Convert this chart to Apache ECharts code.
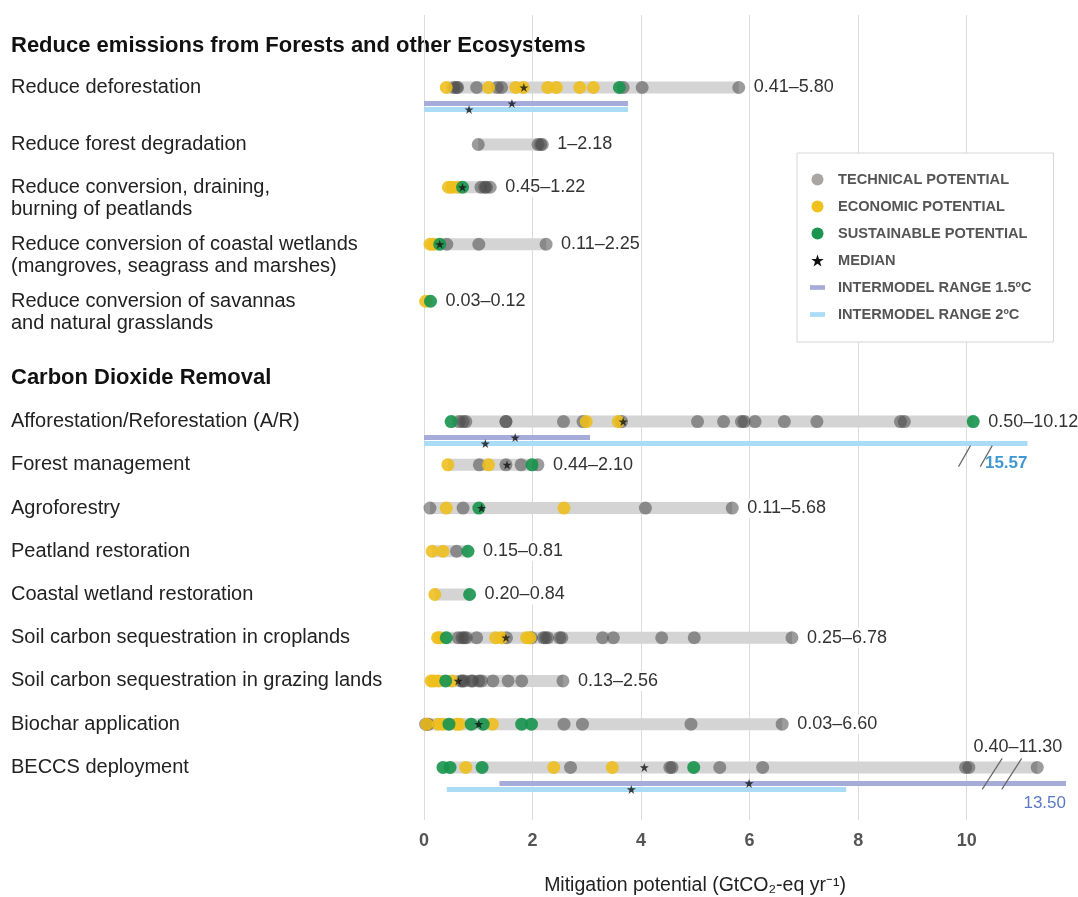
<!DOCTYPE html>
<html><head><meta charset="utf-8">
<script src="https://cdn.jsdelivr.net/npm/echarts@6/dist/echarts.min.js"></script>
<style>html,body{margin:0;padding:0;background:#fff}#chart{width:1078px;height:897px}</style>
</head><body><div id="chart"></div>
<script>
const FONT = "'Liberation Sans', Arial, Helvetica, sans-serif";

// ---------- DATA: Reduce emissions from Forests and other Ecosystems ----------
const topRows = [
  'Reduce deforestation',
  'Reduce forest degradation',
  'Reduce conversion, draining,\nburning of peatlands',
  'Reduce conversion of coastal wetlands\n(mangroves, seagrass and marshes)',
  'Reduce conversion of savannas\nand natural grasslands'
];
const topMin = [0.41, 1, 0.45, 0.11, 0.03];
const topMax = [5.80, 2.18, 1.22, 2.25, 0.12];
const topRangeText = ['0.41–5.80', '1–2.18', '0.45–1.22', '0.11–2.25', '0.03–0.12'];
const topTechnical = [
  [0.55, 0.60, 0.62, 0.97, 1.35, 1.43, 3.67, 4.02, 5.80],
  [1.00, 2.10, 2.15, 2.18],
  [1.05, 1.12, 1.15, 1.22],
  [0.42, 1.01, 2.25],
  []
];
const topEconomic = [
  [0.41, 1.19, 1.69, 1.83, 2.28, 2.44, 2.87, 3.12],
  [],
  [0.45, 0.52, 0.62],
  [0.11, 0.17],
  [0.03]
];
const topSustainable = [[3.60], [], [0.71], [0.29], [0.12]];
const topMedian = [1.84, null, 0.71, 0.29, null];
const topRange15 = [[0, 3.76, 1.62], null, null, null, null]; // [low, high, median]
const topRange20 = [[0, 3.76, 0.83], null, null, null, null];

// ---------- DATA: Carbon Dioxide Removal ----------
const cdrRows = [
  'Afforestation/Reforestation (A/R)',
  'Forest management',
  'Agroforestry',
  'Peatland restoration',
  'Coastal wetland restoration',
  'Soil carbon sequestration in croplands',
  'Soil carbon sequestration in grazing lands',
  'Biochar application',
  'BECCS deployment'
];
const cdrMin = [0.50, 0.44, 0.11, 0.15, 0.20, 0.25, 0.13, 0.03, 0.40];
const cdrMax = [10.12, 2.10, 5.68, 0.81, 0.84, 6.78, 2.56, 6.60, 11.30];
const cdrRangeText = ['0.50–10.12', '0.44–2.10', '0.11–5.68', '0.15–0.81', '0.20–0.84', '0.25–6.78', '0.13–2.56', '0.03–6.60', '0.40–11.30'];
const cdrTechnical = [
  [0.65, 0.72, 0.77, 1.51, 1.51, 2.57, 2.93, 3.64, 5.04, 5.52, 5.85, 5.90, 6.10, 6.64, 7.24, 8.78, 8.85],
  [1.02, 1.51, 1.79, 2.10],
  [0.11, 0.72, 4.08, 5.68],
  [0.60],
  [],
  [0.63, 0.70, 0.74, 0.78, 0.97, 1.52, 1.98, 2.20, 2.24, 2.28, 2.50, 2.54, 3.29, 3.49, 4.38, 4.98, 6.78],
  [0.68, 0.71, 0.74, 0.87, 0.90, 1.01, 1.06, 1.27, 1.55, 1.80, 2.56],
  [0.03, 0.06, 0.08, 2.58, 2.92, 4.92, 6.60],
  [2.70, 4.53, 4.57, 5.45, 6.24, 9.98, 10.04, 11.30]
];
const cdrEconomic = [
  [2.99, 3.58],
  [0.44, 1.19],
  [0.41, 2.58],
  [0.15, 0.35],
  [0.20],
  [0.25, 0.29, 1.32, 1.43, 1.89, 1.95],
  [0.13, 0.18, 0.26, 0.52],
  [0.05, 0.26, 0.35, 0.60, 0.66, 1.26],
  [0.77, 2.39, 3.47]
];
const cdrSustainable = [
  [0.50, 10.12],
  [1.99],
  [1.01],
  [0.81],
  [0.84],
  [0.41],
  [0.40],
  [0.46, 0.87, 1.09, 1.80, 1.98],
  [0.35, 0.48, 1.07, 4.97]
];
const cdrMedian = [3.67, 1.53, 1.06, null, null, 1.51, 0.63, 1.01, 4.06];
const cdrRange15 = [[0, 3.06, 1.68], null, null, null, null, null, null, null, [1.39, 13.50, 5.99]];
const cdrRange20 = [[0, 15.57, 1.13], null, null, null, null, null, null, null, [0.42, 7.78, 3.82]];

const axisTicks = [0, 2, 4, 6, 8, 10];

// ---------- LAYOUT ----------
const XMAX = 11.83;
const topRowSlot = [0, 4, 7, 11, 15];           // row spacing slots in the first section
const breakShownTo = { 'Afforestation/Reforestation (A/R)': 11.12, 'BECCS deployment': XMAX };
const labelAbove = ['BECCS deployment'];
const breakMarks = [
  { row: 'Afforestation/Reforestation (A/R)', at: [9.96, 10.36], dyTop: 24, dyBottom: 45, slant: 6 },
  { row: 'BECCS deployment', at: [10.47, 10.83], dyTop: -9, dyBottom: 22, slant: 10 }
];
const DY15 = 16, DY20 = 22;
const LABEL_MARGIN = 413;
const C = {
  bar: '#d4d4d4', tech: '#4a4a4a', econ: '#eebe1a', sust: '#17934c',
  r15: '#a5acd9', r20: '#aadcf5', r15txt: '#5b79c6', r20txt: '#3f98d2'
};
const STAR = 'path://M50,4 L61,37 L96,37 L68,58 L79,92 L50,71 L21,92 L32,58 L4,37 L39,37 Z';

function rangeSeries(g, rows, key, mins, maxs, texts) {
  return {
    type: 'custom', xAxisIndex: g, yAxisIndex: g, z: 1, silent: true, clip: false,
    data: rows.map((r, i) => [mins[i], key(i), maxs[i]]),
    encode: { x: [0, 2], y: 1 },
    renderItem(params, api) {
      const i = params.dataIndex;
      const a = api.coord([api.value(0), api.value(1)]);
      const b = api.coord([api.value(2), api.value(1)]);
      const above = labelAbove.includes(rows[i]);
      return {
        type: 'group', children: [
          { type: 'rect', shape: { x: a[0], y: a[1] - 6, width: Math.max(b[0] - a[0], 0), height: 12 }, style: { fill: C.bar } },
          { type: 'text', x: above ? b[0] + 26 : b[0] + 14, y: above ? a[1] - 20 : a[1],
            style: { text: texts[i], fill: '#333', fontSize: 18, fontFamily: FONT,
              align: above ? 'right' : 'left', verticalAlign: 'middle', backgroundColor: '#fff', padding: [1, 1] } }
        ]
      };
    }
  };
}

// row names drawn at each row's position (first line centred on the row)
function rowLabelSeries(g, rows, key) {
  return {
    type: 'custom', xAxisIndex: g, yAxisIndex: g, z: 1, silent: true, clip: false,
    data: rows.map((r, i) => [0, key(i)]),
    encode: { x: 0, y: 1 },
    renderItem(params, api) {
      const p = api.coord([0, api.value(1)]);
      return { type: 'text', x: p[0] - LABEL_MARGIN, y: p[1] - 11,
        style: { text: rows[params.dataIndex], fill: '#222', fontSize: 20, lineHeight: 22, fontFamily: FONT, align: 'left', verticalAlign: 'top' } };
    }
  };
}

function scatter(g, name, data, color, opacity) {
  return { type: 'scatter', name, xAxisIndex: g, yAxisIndex: g, z: 3, silent: true,
    symbolSize: 13, itemStyle: { color, opacity }, data };
}

function medianSeries(g, data, dy) {
  return { type: 'scatter', name: 'MEDIAN', xAxisIndex: g, yAxisIndex: g, z: 6, silent: true,
    symbol: STAR, symbolSize: 9, symbolOffset: [0, dy], itemStyle: { color: '#111' }, data };
}

function intermSeries(g, rows, key, ranges, name, color, dy, txtColor, txtWeight) {
  const data = [], meds = [], names = [];
  ranges.forEach((r, i) => { if (r) { data.push([r[0], key(i), r[1]]); meds.push([r[2], key(i)]); names.push(rows[i]); } });
  return [{
    type: 'custom', name, xAxisIndex: g, yAxisIndex: g, z: 2, silent: true, clip: false,
    itemStyle: { color }, data, encode: { x: 0, y: 1 },
    renderItem(params, api) {
      const lo = api.value(0), yk = api.value(1), hi = api.value(2);
      const shownHi = hi > XMAX ? (breakShownTo[names[params.dataIndex]] ?? XMAX) : hi;
      const a = api.coord([lo, yk]), b = api.coord([shownHi, yk]);
      const y = a[1] + dy;
      const ch = [{ type: 'rect', shape: { x: a[0], y: y - 2.5, width: b[0] - a[0], height: 5 }, style: { fill: color } }];
      if (hi > XMAX) {
        ch.push({ type: 'text', x: b[0], y: y + 20,
          style: { text: hi.toFixed(2), fill: txtColor, fontSize: 17, fontWeight: txtWeight, fontFamily: FONT, align: 'right', verticalAlign: 'middle' } });
      }
      return { type: 'group', children: ch };
    }
  }, medianSeries(g, meds, dy)];
}

function breakSeries(g, rows, key) {
  const data = [];
  breakMarks.forEach(m => m.at.forEach(x => data.push([x, key(rows.indexOf(m.row)), m.dyTop, m.dyBottom, m.slant])));
  return {
    type: 'custom', xAxisIndex: g, yAxisIndex: g, z: 7, silent: true, clip: false,
    data, encode: { x: 0, y: 1 },
    renderItem(params, api) {
      const p = api.coord([api.value(0), api.value(1)]);
      const top = api.value(2), bot = api.value(3), s = api.value(4);
      return { type: 'line', shape: { x1: p[0] - s, y1: p[1] + bot, x2: p[0] + s, y2: p[1] + top },
        style: { stroke: '#666', lineWidth: 1.2 } };
    }
  };
}

function sectionSeries(g, rows, key, mins, maxs, texts, tech, econ, sust, med, r15, r20) {
  const pts = arr => rows.flatMap((r, i) => (arr[i] || []).map(v => [v, key(i)]));
  return [
    rowLabelSeries(g, rows, key),
    rangeSeries(g, rows, key, mins, maxs, texts),
    ...intermSeries(g, rows, key, r15, 'INTERMODEL RANGE 1.5ºC', C.r15, DY15, C.r15txt, 'normal'),
    ...intermSeries(g, rows, key, r20, 'INTERMODEL RANGE 2ºC', C.r20, DY20, C.r20txt, 'bold'),
    scatter(g, 'TECHNICAL POTENTIAL', pts(tech), C.tech, 0.55),
    scatter(g, 'ECONOMIC POTENTIAL', pts(econ), C.econ, 0.88),
    scatter(g, 'SUSTAINABLE POTENTIAL', pts(sust), C.sust, 0.9),
    medianSeries(g, rows.map((r, i) => med[i] == null ? null : [med[i], key(i)]).filter(Boolean), 0)
  ];
}

const hiddenX = g => ({ gridIndex: g, type: 'value', min: 0, max: XMAX, show: false, splitLine: { show: false } });
const topKey = i => topRowSlot[i];
const cdrKey = i => i;

const option = {
  animation: false,
  backgroundColor: '#fff',
  grid: [
    { left: 424, right: 12, top: 15, bottom: 77, outerBoundsMode: 'none', containLabel: false },
    { left: 424, right: 12, top: 59, height: 285, outerBoundsMode: 'none', containLabel: false },
    { left: 424, right: 12, top: 400, height: 389, outerBoundsMode: 'none', containLabel: false }
  ],
  xAxis: [
    { gridIndex: 0, type: 'value', min: 0, max: XMAX, interval: 2,
      axisLine: { show: false }, axisTick: { show: false },
      axisLabel: { margin: 12, fontSize: 18, fontWeight: 'bold', color: '#555', fontFamily: FONT, showMaxLabel: false,
        formatter: v => axisTicks.includes(v) ? String(v) : '' },
      splitLine: { show: true, showMaxLine: false, lineStyle: { color: '#dcdcdc', width: 1 } } },
    hiddenX(1), hiddenX(2)
  ],
  yAxis: [
    { gridIndex: 0, type: 'value', show: false, splitLine: { show: false } },
    { gridIndex: 1, type: 'value', min: -2, max: 18, inverse: true, show: false, splitLine: { show: false } },
    { gridIndex: 2, type: 'category', data: cdrRows, inverse: true, show: false, splitLine: { show: false } }
  ],
  legend: {
    orient: 'vertical', left: 797, top: 153, padding: [19, 22, 20, 13], itemGap: 12, itemWidth: 15, itemHeight: 12,
    backgroundColor: '#fff', borderColor: '#d6d6d6', borderWidth: 1, selectedMode: false, z: 10,
    textStyle: { fontFamily: FONT, fontSize: 14.6, fontWeight: 'bold', color: '#555', padding: [0, 0, 0, 8], lineHeight: 12 },
    data: [
      { name: 'TECHNICAL POTENTIAL', icon: 'circle', itemStyle: { color: '#a8a5a5', opacity: 1 } },
      { name: 'ECONOMIC POTENTIAL', icon: 'circle', itemStyle: { color: '#efc11c', opacity: 1 } },
      { name: 'SUSTAINABLE POTENTIAL', icon: 'circle', itemStyle: { color: '#1b9450', opacity: 1 } },
      { name: 'MEDIAN', icon: STAR, itemStyle: { color: '#111', opacity: 1 } },
      { name: 'INTERMODEL RANGE 1.5ºC', icon: 'path://M0,0 L16,0 L16,5 L0,5 Z', itemStyle: { color: C.r15, opacity: 1 } },
      { name: 'INTERMODEL RANGE 2ºC', icon: 'path://M0,0 L16,0 L16,5 L0,5 Z', itemStyle: { color: C.r20, opacity: 1 } }
    ]
  },
  graphic: [
    { type: 'text', x: 11, y: 46, style: { text: 'Reduce emissions from Forests and other Ecosystems', fontSize: 22, fontWeight: 'bold', fill: '#111', fontFamily: FONT, verticalAlign: 'middle' } },
    { type: 'text', x: 11, y: 378, style: { text: 'Carbon Dioxide Removal', fontSize: 22, fontWeight: 'bold', fill: '#111', fontFamily: FONT, verticalAlign: 'middle' } },
    { type: 'text', x: 695, y: 886, style: { text: 'Mitigation potential (GtCO₂-eq yr⁻¹)', fontSize: 19.5, fill: '#222', fontFamily: FONT, align: 'center', verticalAlign: 'middle' } }
  ],
  series: [
    ...sectionSeries(1, topRows, topKey, topMin, topMax, topRangeText, topTechnical, topEconomic, topSustainable, topMedian, topRange15, topRange20),
    ...sectionSeries(2, cdrRows, cdrKey, cdrMin, cdrMax, cdrRangeText, cdrTechnical, cdrEconomic, cdrSustainable, cdrMedian, cdrRange15, cdrRange20),
    breakSeries(2, cdrRows, cdrKey)
  ]
};

const chart = echarts.init(document.getElementById('chart'), null, { renderer: 'canvas' });
chart.setOption(option);
</script></body></html>
